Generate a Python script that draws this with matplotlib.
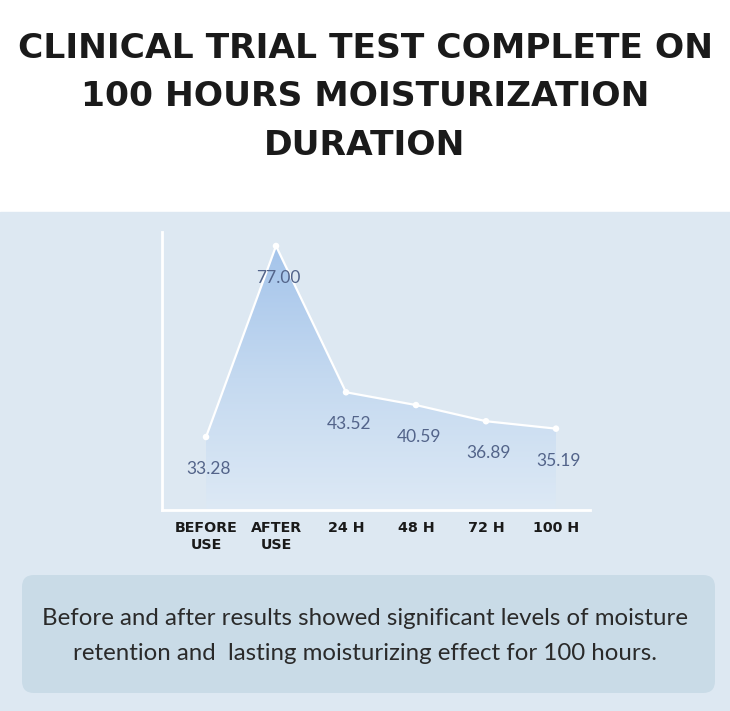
import matplotlib
matplotlib.use("Agg")
import matplotlib.pyplot as plt
import numpy as np
from matplotlib.patches import FancyBboxPatch, Rectangle, Polygon
from matplotlib.colors import LinearSegmentedColormap

categories = ["BEFORE\nUSE", "AFTER\nUSE", "24 H", "48 H", "72 H", "100 H"]
values = [33.28, 77.00, 43.52, 40.59, 36.89, 35.19]
value_labels = ["33.28", "77.00", "43.52", "40.59", "36.89", "35.19"]
title = "CLINICAL TRIAL TEST COMPLETE ON\n100 HOURS MOISTURIZATION\nDURATION"
note = ("Before and after results showed significant levels of moisture\n"
        "retention and  lasting moisturizing effect for 100 hours.")

W, H = 730, 711
fig = plt.figure(figsize=(W / 100, H / 100), dpi=100)
fig.patch.set_facecolor("white")

# background panels
bg = fig.add_axes([0, 0, 1, 1])
bg.set_xlim(0, W)
bg.set_ylim(H, 0)
bg.axis("off")
bg.add_patch(Rectangle((0, 212), W, H - 212, color="#dde8f2", zorder=0))
bg.add_patch(FancyBboxPatch((22, 575), 693, 118,
                            boxstyle="round,pad=0,rounding_size=12",
                            facecolor="#c9dbe7", edgecolor="none", zorder=1))
bg.text(W / 2, 97, title, ha="center", va="center", fontsize=24.8,
        fontweight="bold", color="#1a1a1a", linespacing=1.6,
        family="DejaVu Sans")
bg.text(W / 2, 636, note, ha="center", va="center", fontsize=17.3,
        color="#2a2a2a", linespacing=1.85, family="Lato")

# chart axes: x pixel 162..590, y pixel 232..510
ax = fig.add_axes([162 / W, 1 - 510 / H, (590 - 162) / W, (510 - 232) / H])
ax.patch.set_alpha(0)
x = np.arange(len(values))
ax.set_xlim(-0.629, 5.486)
ax.set_ylim(16.57, 80.2)

# gradient fill under line
grad = LinearSegmentedColormap.from_list("g", ["#dde9f5", "#c4d9f0", "#a4c4eb"])
img = ax.imshow(np.linspace(0, 1, 256).reshape(-1, 1), cmap=grad, aspect="auto",
                extent=[x[0], x[-1], 16.57, max(values)], origin="lower", zorder=1)
poly = Polygon(list(zip(x, values)) + [(x[-1], 16.57), (x[0], 16.57)],
               closed=True, facecolor="none", edgecolor="none")
ax.add_patch(poly)
img.set_clip_path(poly)

ax.plot(x, values, color="white", lw=1.6, zorder=3)
ax.scatter(x, values, s=22, color="white", zorder=4, edgecolors="none")
for xi, v, lab in zip(x, values, value_labels):
    ax.annotate(lab, (xi, v), xytext=(2, -23), textcoords="offset points",
                ha="center", va="center", fontsize=12.5, color="#53648a",
                family="Lato", zorder=5)

for s in ["top", "right"]:
    ax.spines[s].set_visible(False)
for s in ["left", "bottom"]:
    ax.spines[s].set_color("white")
    ax.spines[s].set_linewidth(2)
ax.set_yticks([])
ax.set_xticks(x)
ax.set_xticklabels(categories, fontsize=10.3, fontweight="bold", color="#1a1a1a",
                   linespacing=1.3, va="top")
ax.tick_params(axis="x", length=0, pad=8)

fig.savefig("out.png", dpi=100, facecolor=fig.get_facecolor())
